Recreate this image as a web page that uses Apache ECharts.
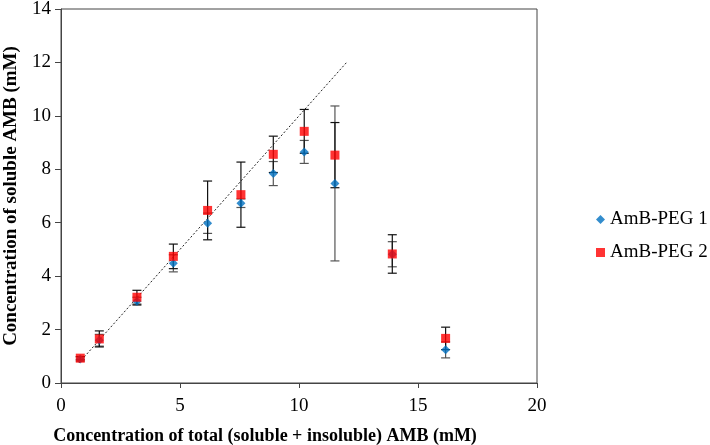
<!DOCTYPE html>
<html><head><meta charset="utf-8">
<script src="https://cdn.jsdelivr.net/npm/echarts@6/dist/echarts.min.js"></script>
<style>html,body{margin:0;padding:0;background:#fff}#c{width:710px;height:445px}</style>
</head><body><div id="c"></div>
<script>
var totalConc = [0.81, 1.61, 3.19, 4.72, 6.16, 7.56, 8.92, 10.22, 11.51, 13.92, 16.16];
var peg1Mean = [0.90, 1.60, 3.06, 4.48, 5.98, 6.73, 7.84, 8.65, 7.47, 4.82, 1.24];
var peg1Err  = [0.08, 0.22, 0.15, 0.32, 0.38, 0.16, 0.45, 0.43, 2.90, 0.47, 0.30];
var peg2Mean = [0.93, 1.65, 3.21, 4.74, 6.46, 7.05, 8.56, 9.42, 8.53, 4.83, 1.67];
var peg2Err  = [0.06, 0.30, 0.26, 0.46, 1.10, 1.22, 0.68, 0.82, 1.22, 0.72, 0.42];
var refLine = [[0.75, 0.75], [12, 12]];
var xTicks = [0, 5, 10, 15, 20];
var yTicks = [0, 2, 4, 6, 8, 10, 12, 14];

function errData(mean, err) {
  return totalConc.map(function (x, i) { return [x, mean[i] - err[i], mean[i] + err[i]]; });
}
function errRender(color) {
  return function (params, api) {
    var x = api.value(0);
    var lo = api.coord([x, api.value(1)]);
    var hi = api.coord([x, api.value(2)]);
    var w = 4.5;
    var st = { stroke: color, lineWidth: 1.2 };
    return { type: 'group', children: [
      { type: 'line', shape: { x1: lo[0], y1: lo[1], x2: hi[0], y2: hi[1] }, style: st },
      { type: 'line', shape: { x1: lo[0] - w, y1: lo[1], x2: lo[0] + w, y2: lo[1] }, style: st },
      { type: 'line', shape: { x1: hi[0] - w, y1: hi[1], x2: hi[0] + w, y2: hi[1] }, style: st }
    ]};
  };
}
function pts(mean) { return totalConc.map(function (x, i) { return [x, mean[i]]; }); }

var font = 'Liberation Serif, Times New Roman, serif';
var chart = echarts.init(document.getElementById('c'), null, { renderer: 'canvas' });
chart.setOption({
  animation: false,
  textStyle: { fontFamily: font },
  grid: { left: 61, top: 9, width: 476, height: 374, show: true, borderColor: '#444', borderWidth: 1,
    containLabel: false, outerBoundsMode: 'none' },
  legend: {
    orient: 'vertical', left: 591, top: 205, itemGap: 14, itemWidth: 9, itemHeight: 9,
    textStyle: { fontFamily: font, fontSize: 19, color: '#000' },
    data: [{ name: 'AmB-PEG 1', icon: 'diamond' }, { name: 'AmB-PEG 2', icon: 'rect' }]
  },
  xAxis: {
    type: 'value', min: 0, max: 20, interval: 5,
    name: 'Concentration of total (soluble + insoluble) AMB (mM)',
    nameLocation: 'middle', nameGap: 44,
    nameTextStyle: { fontFamily: font, fontSize: 18, fontWeight: 'bold', color: '#000',
      padding: [0, 68, 0, 0] },
    axisLine: { lineStyle: { color: '#444' } },
    axisTick: { show: true, inside: false, length: 5, lineStyle: { color: '#444' } },
    axisLabel: { fontFamily: font, fontSize: 19, color: '#000', margin: 14,
      formatter: function (v) { return xTicks.indexOf(v) >= 0 ? String(v) : ''; } },
    splitLine: { show: false }
  },
  yAxis: {
    type: 'value', min: 0, max: 14, interval: 2,
    name: 'Concentration of soluble AMB (mM)',
    nameLocation: 'middle', nameGap: 40,
    nameTextStyle: { fontFamily: font, fontSize: 19, fontWeight: 'bold', color: '#000' },
    axisLine: { lineStyle: { color: '#444' } },
    axisTick: { show: true, length: 6, lineStyle: { color: '#444' } },
    axisLabel: { fontFamily: font, fontSize: 19, color: '#000', margin: 10,
      formatter: function (v) { return yTicks.indexOf(v) >= 0 ? String(v) : ''; } },
    splitLine: { show: false }
  },
  series: [
    { type: 'line', data: refLine, symbol: 'none', silent: true,
      lineStyle: { color: '#222', width: 1, type: [2, 2] }, z: 1 },
    { type: 'custom', renderItem: errRender('#555'), data: errData(peg1Mean, peg1Err),
      encode: { x: 0, y: [1, 2] }, z: 2, silent: true },
    { type: 'custom', renderItem: errRender('#111'), data: errData(peg2Mean, peg2Err),
      encode: { x: 0, y: [1, 2] }, z: 2, silent: true },
    { name: 'AmB-PEG 1', type: 'scatter', data: pts(peg1Mean), symbol: 'diamond', symbolSize: 9,
      itemStyle: { color: '#0070C0' }, z: 3 },
    { name: 'AmB-PEG 2', type: 'scatter', data: pts(peg2Mean), symbol: 'rect', symbolSize: 9,
      itemStyle: { color: '#FF0000' }, z: 4 }
  ]
});
</script></body></html>
